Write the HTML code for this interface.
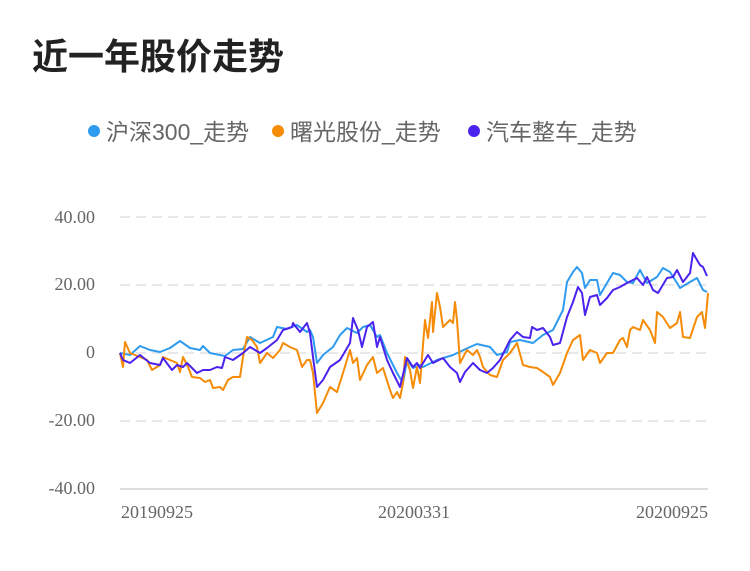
<!DOCTYPE html>
<html><head><meta charset="utf-8"><style>
body{margin:0;background:#fff;width:750px;height:566px;overflow:hidden;font-family:"Liberation Sans","Noto Sans CJK SC",sans-serif}
</style></head><body>
<svg width="750" height="566" xmlns="http://www.w3.org/2000/svg">
<text x="32" y="69" font-size="36" font-weight="bold" fill="#222" font-family="Liberation Sans,Noto Sans CJK SC,sans-serif">近一年股价走势</text>
<g font-size="23" fill="#666" font-family="Liberation Sans,Noto Sans CJK SC,sans-serif">
<circle cx="94" cy="131" r="6" fill="#2f9bef"/><text x="106" y="140">沪深300_走势</text>
<circle cx="278" cy="131" r="6" fill="#f58b07"/><text x="290" y="140">曙光股份_走势</text>
<circle cx="474" cy="131" r="6" fill="#4b22ee"/><text x="486" y="140">汽车整车_走势</text>
</g>
<g stroke="#e8e8e8" stroke-width="2" stroke-dasharray="10,6">
<line x1="120" y1="217" x2="708" y2="217"/><line x1="120" y1="285" x2="708" y2="285"/><line x1="120" y1="353" x2="708" y2="353"/><line x1="120" y1="421" x2="708" y2="421"/>
</g>
<line x1="120" y1="489" x2="708" y2="489" stroke="#ddd" stroke-width="2"/>
<g font-size="18" fill="#666" text-anchor="end" font-family="Liberation Serif,serif">
<text x="95" y="223">40.00</text><text x="95" y="290">20.00</text><text x="95" y="358">0</text><text x="95" y="426">-20.00</text><text x="95" y="494">-40.00</text>
</g>
<g font-size="18" fill="#666" text-anchor="middle" font-family="Liberation Serif,serif">
<text x="157" y="518">20190925</text><text x="414" y="518">20200331</text><text x="672" y="518">20200925</text>
</g>
<g fill="none" stroke-width="2" stroke-linejoin="round">
<polyline stroke="#2f9bef" points="120,353 130,355 140,346 150,350 160,352 170,348 180,341 190,348 200,350 203,346 210,353 225,356 233,350 243,349 250,337 260,343 273,337 277,327 287,329 297,325 307,332 310,330 313,337 317,363 323,355 333,347 340,335 347,328 357,333 363,327 370,325 377,337 380,335 387,353 397,373 403,383 407,360 413,368 420,365 423,367 437,360 453,355 470,347 477,344 490,347 497,355 507,352 510,342 520,340 533,343 543,335 553,330 563,310 567,282 573,272 577,267 582,273 585,288 590,280 597,280 600,295 607,283 613,273 620,275 627,282 633,283 640,270 647,283 657,277 663,268 670,272 677,283 680,288 690,282 697,278 703,290 707,292"/>
<polyline stroke="#f58b07" points="120,353 123,367 125,342 130,353 140,357 147,360 152,370 160,365 163,357 170,360 177,363 180,372 183,357 188,367 192,377 200,378 205,382 210,380 213,388 220,387 223,390 228,380 233,377 240,377 243,357 247,337 252,340 257,347 260,363 267,353 273,358 280,350 283,343 290,347 297,350 302,367 307,360 310,360 313,373 317,413 323,403 330,387 337,392 343,373 350,350 353,363 357,358 360,380 367,365 373,357 377,373 383,368 390,390 393,398 397,392 400,398 403,383 405,357 410,370 413,388 417,367 420,383 425,320 428,338 432,302 433,332 437,293 440,307 443,327 450,320 453,323 455,302 457,320 460,363 467,350 473,355 477,350 480,357 483,367 490,375 497,377 503,360 510,353 517,343 523,365 530,367 537,368 543,372 550,377 553,385 560,373 567,353 573,340 580,335 583,360 590,350 597,353 600,363 607,353 613,353 620,340 623,338 627,347 630,330 633,327 640,330 643,320 650,330 655,343 657,312 663,317 670,328 677,323 680,312 683,337 690,338 697,317 702,312 705,328 708,293"/>
<polyline stroke="#4b22ee" points="120,353 123,360 130,363 140,355 150,363 160,365 163,358 172,370 177,365 183,367 187,363 197,373 203,370 210,370 217,367 222,368 225,357 233,360 243,353 250,347 260,353 267,348 277,340 283,330 292,327 293,323 300,332 307,323 310,333 313,357 317,387 323,380 330,367 340,360 350,343 353,318 358,330 362,347 367,327 373,322 377,347 380,337 387,360 393,373 400,387 407,358 413,367 417,363 420,368 428,355 433,363 443,358 450,367 457,373 460,382 465,372 473,363 480,370 487,373 493,368 500,360 510,340 517,332 523,337 530,338 532,327 537,330 543,328 550,337 553,345 560,343 567,317 573,302 578,287 582,293 585,315 590,297 597,295 600,305 607,298 613,290 620,287 627,283 637,278 643,285 647,277 653,290 658,293 667,278 673,277 677,270 683,282 690,273 693,253 697,260 700,265 703,267 707,276"/>
</g>
</svg>
</body></html>
